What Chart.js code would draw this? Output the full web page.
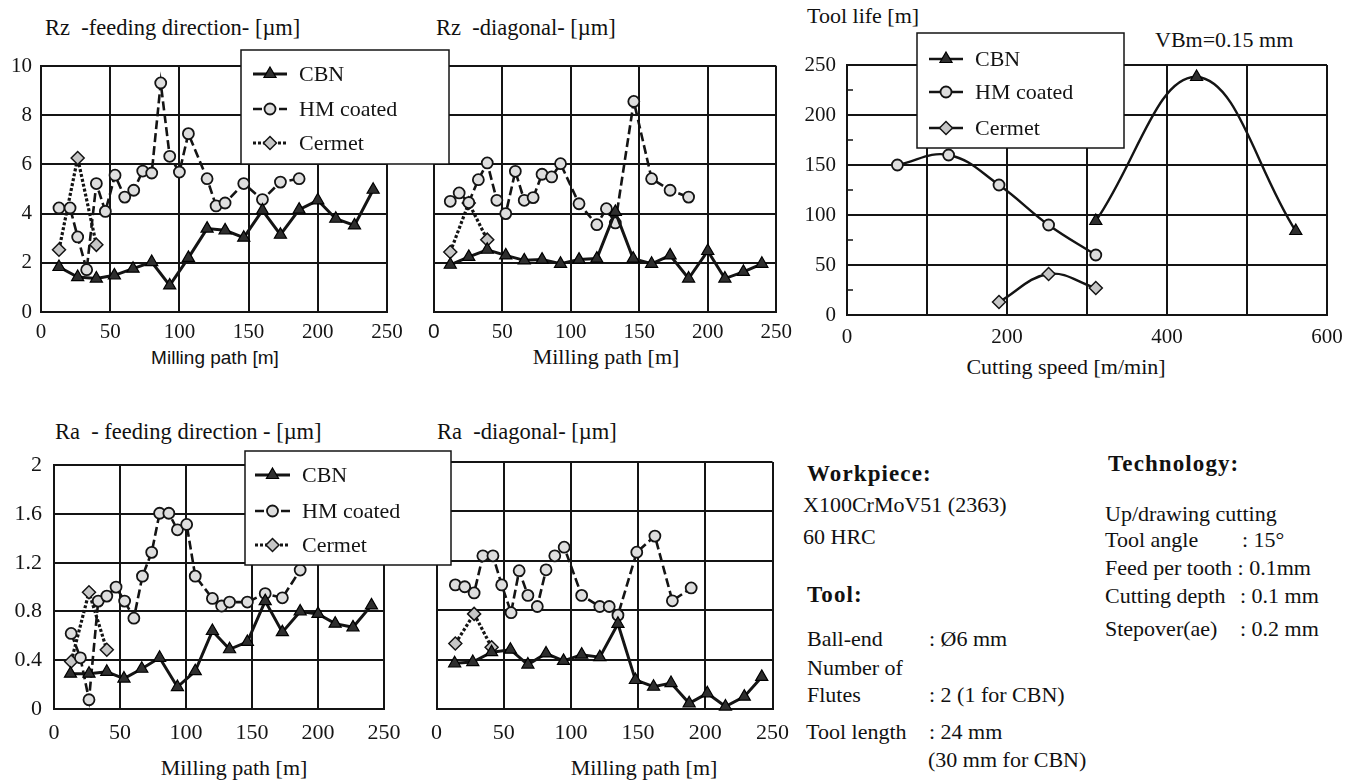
<!DOCTYPE html>
<html>
<head>
<meta charset="utf-8">
<title>Surface roughness and tool life</title>
<script src="https://cdn.jsdelivr.net/npm/chart.js@4.4.0/dist/chart.umd.min.js"></script>
<style>
  body { margin: 0; width: 1356px; height: 780px; overflow: hidden; position: relative; background: #fff; color: #111;
         font-family: "Liberation Serif", "Times New Roman", serif; }
  canvas { position: absolute; }
  .t { position: absolute; white-space: pre; line-height: 1; font-size: 22px; transform: translateY(-50%); }
  .h { font-size: 22.5px; }
  .c { transform: translate(-50%, -50%); }
  .b { font-weight: bold; font-size: 23px; letter-spacing: 1.1px; }
  .sans { font-family: "Liberation Sans", Arial, sans-serif; font-size: 19px; }
</style>
</head>
<body>
<canvas id="rzFeed" width="452" height="310" style="left:0;top:40px;z-index:3"></canvas>
<canvas id="rzDiag" width="380" height="310" style="left:420px;top:40px;z-index:1"></canvas>
<canvas id="toolLife" width="556" height="330" style="left:800px;top:20px;z-index:1"></canvas>
<canvas id="raFeed" width="456" height="330" style="left:0;top:440px;z-index:3"></canvas>
<canvas id="raDiag" width="380" height="330" style="left:420px;top:440px;z-index:1"></canvas>

<!-- chart titles -->
<div class="t h" style="left:45px;top:28px">Rz&nbsp; -feeding direction- [µm]</div>
<div class="t h" style="left:436px;top:28px">Rz&nbsp; -diagonal- [µm]</div>
<div class="t" style="left:807px;top:16px">Tool life [m]</div>
<div class="t" style="left:1155px;top:40px">VBm=0.15 mm</div>
<div class="t h" style="left:55px;top:432px">Ra&nbsp; - feeding direction - [µm]</div>
<div class="t h" style="left:437px;top:432px">Ra&nbsp; -diagonal- [µm]</div>

<!-- axis titles -->
<div class="t c sans" style="left:215px;top:357px">Milling path [m]</div>
<div class="t c" style="left:606px;top:357px">Milling path [m]</div>
<div class="t c" style="left:1066px;top:367px">Cutting speed [m/min]</div>
<div class="t c" style="left:234px;top:768px">Milling path [m]</div>
<div class="t c" style="left:644px;top:768px">Milling path [m]</div>

<!-- test conditions -->
<div class="t b" style="left:807px;top:473px">Workpiece:</div>
<div class="t" style="left:803px;top:505px">X100CrMoV51 (2363)</div>
<div class="t" style="left:803px;top:537px">60 HRC</div>
<div class="t b" style="left:807px;top:594px">Tool:</div>
<div class="t" style="left:807px;top:639px">Ball-end</div>
<div class="t" style="left:929px;top:639px">: Ø6 mm</div>
<div class="t" style="left:807px;top:668px">Number of</div>
<div class="t" style="left:807px;top:695px">Flutes</div>
<div class="t" style="left:929px;top:695px">: 2 (1 for CBN)</div>
<div class="t" style="left:806px;top:732px">Tool length</div>
<div class="t" style="left:929px;top:732px">: 24 mm</div>
<div class="t" style="left:928px;top:760px">(30 mm for CBN)</div>
<div class="t b" style="left:1108px;top:463px">Technology:</div>
<div class="t" style="left:1105px;top:514px">Up/drawing cutting</div>
<div class="t" style="left:1105px;top:540px">Tool angle</div>
<div class="t" style="left:1242px;top:540px">: 15°</div>
<div class="t" style="left:1105px;top:568px">Feed per tooth : 0.1mm</div>
<div class="t" style="left:1105px;top:596px">Cutting depth</div>
<div class="t" style="left:1240px;top:596px">: 0.1 mm</div>
<div class="t" style="left:1105px;top:629px">Stepover(ae)</div>
<div class="t" style="left:1240px;top:629px">: 0.2 mm</div>

<script>
// ---- data ----
const seriesNames = ['CBN', 'HM coated', 'Cermet'];

// Rz feeding direction
const rzFeedCbnX = [13, 26.5, 40, 53, 66.5, 80, 93, 106.5, 120, 133, 146.5, 160, 173, 186.5, 200, 213, 226.5, 240];
const rzFeedCbnY = [1.83, 1.42, 1.36, 1.49, 1.76, 2.03, 1.08, 2.2, 3.39, 3.32, 3.02, 4.13, 3.14, 4.16, 4.54, 3.79, 3.52, 4.97];
const rzFeedHmX = [13, 21, 26.5, 33, 40, 46.5, 53.5, 60.5, 67, 73.5, 80, 86.5, 93, 100, 106.5, 120, 126.5, 133, 146.5, 160, 173, 186.5];
const rzFeedHmY = [4.23, 4.23, 3.05, 1.72, 5.22, 4.09, 5.56, 4.67, 4.95, 5.73, 5.65, 9.31, 6.33, 5.69, 7.25, 5.42, 4.31, 4.43, 5.22, 4.57, 5.28, 5.42];
const rzFeedCerX = [13, 26.5, 40];
const rzFeedCerY = [2.53, 6.26, 2.73];

// Rz diagonal
const rzDiagCbnX = [12, 25.5, 39, 52.5, 66, 79, 92.5, 106, 119, 132.5, 145.5, 159, 172.5, 186, 200, 212.5, 226, 239.5];
const rzDiagCbnY = [1.92, 2.24, 2.53, 2.3, 2.1, 2.13, 1.96, 2.13, 2.17, 4.07, 2.17, 1.96, 2.3, 1.36, 2.48, 1.36, 1.63, 1.96];
const rzDiagHmX = [12, 18.5, 25.5, 32.5, 39, 46, 52.5, 59.5, 66, 72.5, 79, 86, 92.5, 106, 119, 126, 132.5, 146, 159, 172.5, 186];
const rzDiagHmY = [4.5, 4.84, 4.45, 5.38, 6.06, 4.54, 4.0, 5.72, 4.54, 4.65, 5.6, 5.49, 6.03, 4.4, 3.55, 4.2, 3.62, 8.56, 5.42, 4.95, 4.67];
const rzDiagCerX = [12, 25.5, 39];
const rzDiagCerY = [2.44, 4.43, 2.94];

// Ra feeding direction
const raFeedCbnX = [12.5, 26.5, 40, 53, 66.5, 80, 93.5, 107, 120, 133, 146.5, 160, 173, 186.5, 200, 213, 226.5, 240.5];
const raFeedCbnY = [0.29, 0.29, 0.305, 0.25, 0.33, 0.42, 0.18, 0.31, 0.64, 0.49, 0.55, 0.885, 0.63, 0.8, 0.78, 0.7, 0.67, 0.85];
const raFeedHmX = [13, 20, 26.5, 33.5, 40, 47, 53.5, 60.5, 67, 74, 80, 87, 93.5, 100.5, 107, 120, 127, 133, 146.5, 160, 173, 186.5];
const raFeedHmY = [0.62, 0.42, 0.076, 0.885, 0.926, 1.0, 0.885, 0.745, 1.09, 1.285, 1.606, 1.606, 1.47, 1.514, 1.09, 0.907, 0.845, 0.877, 0.877, 0.947, 0.912, 1.14];
const raFeedCerX = [13, 26.5, 40];
const raFeedCerY = [0.39, 0.958, 0.486];

// Ra diagonal
const raDiagCbnX = [13.5, 27, 41, 55, 68, 81.5, 94.5, 108, 121.5, 135, 148, 161.5, 174.5, 188, 201.5, 215, 229, 242];
const raDiagCbnY = [0.37, 0.38, 0.46, 0.48, 0.36, 0.45, 0.39, 0.44, 0.42, 0.69, 0.235, 0.18, 0.21, 0.046, 0.127, 0.02, 0.1, 0.26];
const raDiagHmX = [14, 21, 28, 34.5, 42, 48.5, 55.5, 61.5, 68, 75, 81.5, 88, 95, 108, 121.5, 128.5, 135, 149, 162.5, 175.5, 189.5];
const raDiagHmY = [1.005, 0.99, 0.94, 1.24, 1.24, 1.005, 0.78, 1.12, 0.92, 0.83, 1.127, 1.24, 1.31, 0.92, 0.83, 0.83, 0.76, 1.27, 1.4, 0.876, 0.98];
const raDiagCerX = [14, 28, 41];
const raDiagCerY = [0.53, 0.77, 0.5];

// Tool life vs cutting speed
const lifeCbnX = [311, 437, 561];
const lifeCbnY = [94, 238, 84];
const lifeHmX = [63, 127, 190, 252, 311];
const lifeHmY = [150, 160, 130, 90, 60];
const lifeCerX = [190, 252, 311];
const lifeCerY = [13, 41, 27];

// axis ticks
const pathTicks = [0, 50, 100, 150, 200, 250];
const rzTicks = [0, 2, 4, 6, 8, 10];
const raTicks = [0, 0.4, 0.8, 1.2, 1.6, 2];
const lifeYTicks = [0, 50, 100, 150, 200, 250];
const lifeXGrid = [0, 100, 200, 300, 400, 500, 600];
const lifeXTicks = [0, 200, 400, 600];
const lifeMinorTicks = [25, 75, 125, 175, 225];

// ---- helpers ----
const SERIF = '"Liberation Serif", "Times New Roman", serif';
const SANS = '"Liberation Sans", Arial, sans-serif';
const INK = '#141414';

function pairs(xs, ys) {
    return xs.map((x, i) => ({ x: x, y: ys[i] }));
}

// three series share the same marker/line look in every chart
function roughnessSets(cbn, hm, cer, solidOnly) {
    return [
        { label: seriesNames[0], data: cbn, borderColor: INK, borderWidth: solidOnly ? 2.4 : 3,
          pointStyle: 'triangle', pointRadius: 7, pointBackgroundColor: '#2e2e2e', pointBorderColor: '#000', pointBorderWidth: 1.2 },
        { label: seriesNames[1], data: hm, borderColor: INK, borderWidth: solidOnly ? 2.4 : 2.6, borderDash: solidOnly ? [] : [9, 4],
          pointStyle: 'circle', pointRadius: 5.5, pointBackgroundColor: '#dedede', pointBorderColor: INK, pointBorderWidth: 1.8 },
        { label: seriesNames[2], data: cer, borderColor: INK, borderWidth: solidOnly ? 2.4 : 3.2, borderDash: solidOnly ? [] : [3, 2],
          pointStyle: 'rectRot', pointRadius: 6.5, pointBackgroundColor: '#c6c6c6', pointBorderColor: INK, pointBorderWidth: 1.5 }
    ].map(ds => Object.assign(ds, { clip: 10, tension: solidOnly ? 0.4 : 0, fill: false }));
}

function linearAxis(ticks, size, opts) {
    return {
        type: 'linear',
        min: ticks[0],
        max: ticks[ticks.length - 1],
        afterFit: opts.fit,
        afterBuildTicks: (s) => { s.ticks = ticks.map(v => ({ value: v })); },
        ticks: {
            display: opts.labels !== false,
            autoSkip: false,
            maxRotation: 0,
            padding: opts.pad || 8,
            color: INK,
            font: opts.font || { family: SERIF, size: size },
            callback: opts.callback || ((v) => String(v))
        },
        grid: { color: INK, lineWidth: 2, drawTicks: false },
        border: { color: INK, width: 2 }
    };
}

// legend drawn as a framed box with line + marker samples
const boxLegend = {
    id: 'boxLegend',
    afterDraw(chart, args, o) {
        if (!o || !o.rows) return;
        const ctx = chart.ctx;
        ctx.save();
        ctx.fillStyle = '#fff';
        ctx.strokeStyle = INK;
        ctx.lineWidth = 1.5;
        ctx.fillRect(o.x, o.y, o.w, o.h);
        ctx.strokeRect(o.x, o.y, o.w, o.h);
        chart.data.datasets.forEach((ds, i) => {
            const y = o.rows[i];
            ctx.strokeStyle = ds.borderColor;
            ctx.lineWidth = ds.borderWidth;
            ctx.setLineDash(ds.borderDash || []);
            ctx.beginPath();
            ctx.moveTo(o.x0, y);
            ctx.lineTo(o.x1, y);
            ctx.stroke();
            ctx.setLineDash([]);
            ctx.fillStyle = ds.pointBackgroundColor;
            ctx.strokeStyle = ds.pointBorderColor;
            ctx.lineWidth = ds.pointBorderWidth;
            Chart.helpers.drawPoint(ctx, { pointStyle: ds.pointStyle, radius: ds.pointRadius, rotation: 0, borderWidth: ds.pointBorderWidth },
                (o.x0 + o.x1) / 2, y);
            ctx.fillStyle = INK;
            ctx.font = '22px ' + SERIF;
            ctx.textBaseline = 'middle';
            ctx.fillText(ds.label, o.tx, y + 1);
        });
        ctx.restore();
    }
};

// short tick marks on the inside of the tool life y axis
const minorTicks = {
    id: 'minorTicks',
    afterDatasetsDraw(chart, args, o) {
        if (!o || !o.values) return;
        const ctx = chart.ctx, ys = chart.scales.y, left = chart.chartArea.left;
        ctx.save();
        ctx.strokeStyle = INK;
        ctx.lineWidth = 1.5;
        o.values.forEach(v => {
            const y = ys.getPixelForValue(v);
            ctx.beginPath();
            ctx.moveTo(left, y);
            ctx.lineTo(left + 6, y);
            ctx.stroke();
        });
        ctx.restore();
    }
};

function makeChart(id, datasets, xAxis, yAxis, pad, legend, minor) {
    return new Chart(document.getElementById(id), {
        type: 'line',
        data: { datasets: datasets },
        options: {
            responsive: false,
            animation: false,
            events: [],
            layout: { padding: pad },
            scales: { x: xAxis, y: yAxis },
            plugins: {
                legend: { display: false },
                tooltip: { enabled: false },
                boxLegend: legend || false,
                minorTicks: minor || false
            }
        },
        plugins: [boxLegend, minorTicks]
    });
}

// ---- charts ----
makeChart('rzFeed',
    roughnessSets(pairs(rzFeedCbnX, rzFeedCbnY), pairs(rzFeedHmX, rzFeedHmY), pairs(rzFeedCerX, rzFeedCerY)),
    linearAxis(pathTicks, 21, { fit: s => { s.height = 38; }, pad: 8 }),
    linearAxis(rzTicks, 21, { fit: s => { s.width = 41; }, pad: 9 }),
    { left: 0, top: 26, right: 65, bottom: 0 },
    { x: 241, y: 10, w: 208, h: 114, x0: 253, x1: 287, tx: 299, rows: [34, 69, 103] });

makeChart('rzDiag',
    roughnessSets(pairs(rzDiagCbnX, rzDiagCbnY), pairs(rzDiagHmX, rzDiagHmY), pairs(rzDiagCerX, rzDiagCerY)),
    linearAxis(pathTicks, 21, { fit: s => { s.height = 38; }, pad: 8,
        font: (c) => ({ family: c.tick && c.tick.value === 0 ? SANS : SERIF, size: 21 }) }),
    linearAxis(rzTicks, 21, { fit: s => { s.width = 12; }, labels: false }),
    { left: 0, top: 26, right: 23, bottom: 0 });

makeChart('toolLife',
    roughnessSets(pairs(lifeCbnX, lifeCbnY), pairs(lifeHmX, lifeHmY), pairs(lifeCerX, lifeCerY), true),
    linearAxis(lifeXGrid, 21, { fit: s => { s.height = 35; }, pad: 10,
        callback: (v) => lifeXTicks.includes(v) ? String(v) : '' }),
    linearAxis(lifeYTicks, 21, { fit: s => { s.width = 47; }, pad: 11 }),
    { left: 0, top: 45, right: 29, bottom: 0 },
    { x: 117, y: 13, w: 207, h: 115, x0: 129, x1: 163, tx: 175, rows: [39, 72, 108] },
    { values: lifeMinorTicks });

makeChart('raFeed',
    roughnessSets(pairs(raFeedCbnX, raFeedCbnY), pairs(raFeedHmX, raFeedHmY), pairs(raFeedCerX, raFeedCerY)),
    linearAxis(pathTicks, 22, { fit: s => { s.height = 61; }, pad: 11 }),
    linearAxis(raTicks, 22, { fit: s => { s.width = 54; }, pad: 12 }),
    { left: 0, top: 22, right: 72, bottom: 0 },
    { x: 245, y: 11, w: 206, h: 114, x0: 255, x1: 290, tx: 302, rows: [35, 71, 105] });

makeChart('raDiag',
    roughnessSets(pairs(raDiagCbnX, raDiagCbnY), pairs(raDiagHmX, raDiagHmY), pairs(raDiagCerX, raDiagCerY)),
    linearAxis(pathTicks, 22, { fit: s => { s.height = 61; }, pad: 11 }),
    linearAxis(raTicks, 22, { fit: s => { s.width = 14; }, labels: false }),
    { left: 0, top: 22, right: 21, bottom: 0 });
</script>
</body>
</html>
